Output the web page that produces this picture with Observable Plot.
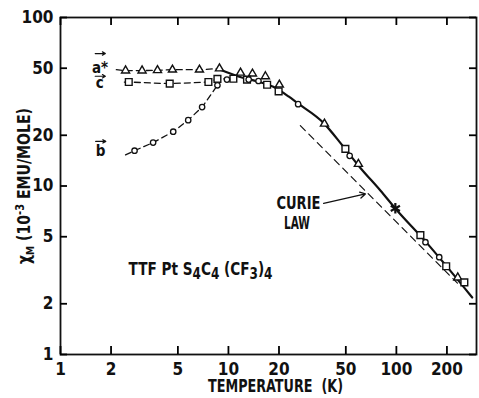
<!DOCTYPE html>
<html><head><meta charset="utf-8">
<script src="https://cdn.jsdelivr.net/npm/d3@7"></script>
<script src="https://cdn.jsdelivr.net/npm/@observablehq/plot@0.6"></script>
<style>
body{margin:0;background:#fff;}
#chart svg{font-family:"DejaVu Sans Condensed","DejaVu Sans",sans-serif;font-weight:bold;}
</style></head><body><div id="chart"></div>
<script>
// tick values
const xTicks = [1, 2, 5, 10, 20, 50, 100, 200];
const yTicks = [1, 2, 5, 10, 20, 50, 100];

// measured points: a* (triangles)
const aT   = [2.44, 3.06, 3.78, 4.64, 6.72, 8.84, 11.8, 13.9, 16.6, 20.1, 37.3, 59.4, 232];
const aChi = [48.4, 48.4, 48.6, 49.0, 49.0, 49.8, 47.0, 46.4, 44.7, 39.9, 23.4, 13.5, 2.86];
// c (squares)
const cT   = [2.55, 4.47, 7.6, 8.6, 10.7, 12.9, 17.0, 19.9, 49.7, 139, 198, 254];
const cChi = [41.4, 40.5, 41.4, 43.2, 43.3, 42.8, 39.9, 36.4, 16.6, 5.11, 3.34, 2.68];
// b (circles)
const bT   = [2.76, 3.56, 4.69, 5.76, 6.97, 8.6, 9.8, 13.2, 15.1, 26.0, 52.7, 149, 180];
const bChi = [16.2, 18.1, 21.0, 24.6, 29.4, 39.6, 42.8, 42.8, 42.0, 30.6, 15.1, 4.64, 3.78];
// overlapping point at 100 K
const starT = [98.6];
const starChi = [7.37];

// dashed low-temperature guide curves
const aDashT   = [2.15, 2.44, 3.06, 3.78, 4.64, 6.72, 8.84];
const aDashChi = [49.0, 48.4, 48.4, 48.6, 49.0, 49.0, 49.8];
const cDashT   = [2.4, 2.55, 4.47, 7.6, 8.6, 10.7];
const cDashChi = [41.4, 41.4, 40.5, 41.4, 43.2, 43.3];
const bDashT   = [2.44, 2.76, 3.56, 4.69, 5.76, 6.97, 8.6, 8.9];
const bDashChi = [15.3, 16.2, 18.1, 21.0, 24.6, 29.4, 39.6, 43.5];

// solid high-temperature curve
const fitT   = [8.96, 11.47, 15.09, 18.5, 22.8, 25.7, 36.8, 48.4, 61.1, 80.3, 98.6, 153, 201, 283];
const fitChi = [49.0, 44.7, 41.6, 38.8, 34.0, 31.1, 23.7, 17.1, 12.8, 9.4, 7.35, 4.55, 3.3, 2.18];

// Curie law line
const curieT   = [26.8, 231];
const curieChi = [22.8, 2.65];

// annotations
const seriesNames = ["a*", "c", "b"];
const seriesLabT = [1.72, 1.71, 1.73];
const seriesLabChi = [49.7, 40.5, 16.2];
const vecX1 = [1.61, 1.61, 1.62], vecX2 = [1.85, 1.85, 1.86];
const vecChi = [61.1, 44.8, 18.4];
const curieWords = ["CURIE", "LAW"];
const curieWordT = [26.1, 25.6], curieWordChi = [7.92, 6.02];
const curieArrow = {x1: [36.9], y1: [7.89], x2: [65.4], y2: [8.97]};
const compound = ["TTF Pt S4C4 (CF3)4"];
const compoundT = [2.54], compoundChi = [3.21];
const xLabel = "TEMPERATURE  (K)";
const yLabel = "χM (10-3 EMU/MOLE)";

const zip = (xs, ys) => xs.map((x, i) => ({x, y: ys[i]}));
const ink = "#111";
const dash = {stroke: ink, strokeWidth: 1.3, strokeDasharray: "6,4"};
const W = 479, H = 398, ML = 60, MR = 3, MT = 17, MB = 44;
const PW = W - ML - MR, PH = H - MT - MB;
const tickStyle = {stroke: "#000", strokeWidth: 1.8};

const plot = Plot.plot({
  width: W, height: H,
  marginLeft: ML, marginRight: MR, marginTop: MT, marginBottom: MB,
  style: {fontFamily: '"DejaVu Sans Condensed","DejaVu Sans",sans-serif', fontSize: "17px", fontWeight: "bold", color: ink, background: "#fff"},
  x: {type: "log", domain: [1, 300], axis: null},
  y: {type: "log", domain: [1, 100], axis: null},
  marks: [
    Plot.frame({stroke: ink, strokeWidth: 1.8}),
    // inward ticks on all four sides
    Plot.tickX(xTicks, {x: d => d, ...tickStyle, insetTop: PH - 8}),
    Plot.tickX(xTicks, {x: d => d, ...tickStyle, insetBottom: PH - 8}),
    Plot.tickY(yTicks, {y: d => d, ...tickStyle, insetLeft: PW - 7}),
    Plot.tickY(yTicks, {y: d => d, ...tickStyle, insetLeft: PW - 7, dx: -(PW - 7)}),
    // tick labels
    Plot.text(xTicks, {x: d => d, frameAnchor: "bottom", lineAnchor: "top", dy: 8, text: d => String(d), fontSize: 17, fill: ink}),
    Plot.text(yTicks, {y: d => d, frameAnchor: "left", textAnchor: "end", dx: -7, text: d => String(d), fontSize: 17, fill: ink}),
    Plot.line(zip(curieT, curieChi), {x: "x", y: "y", stroke: ink, strokeWidth: 1.2, strokeDasharray: "7,5"}),
    Plot.line(zip(aDashT, aDashChi), {x: "x", y: "y", ...dash}),
    Plot.line(zip(cDashT, cDashChi), {x: "x", y: "y", ...dash}),
    Plot.line(zip(bDashT, bDashChi), {x: "x", y: "y", ...dash}),
    Plot.line(zip(fitT, fitChi), {x: "x", y: "y", stroke: ink, strokeWidth: 2.2, curve: "monotone-x"}),
    Plot.dot(zip(aT, aChi), {x: "x", y: "y", symbol: "triangle", r: 3, stroke: ink, fill: "#fff", strokeWidth: 1.4}),
    Plot.dot(zip(cT, cChi), {x: "x", y: "y", symbol: "square", r: 3.8, stroke: ink, fill: "#fff", strokeWidth: 1.4}),
    Plot.dot(zip(bT, bChi), {x: "x", y: "y", symbol: "circle", r: 2.7, stroke: ink, fill: "#fff", strokeWidth: 1.3}),
    Plot.dot(zip(starT, starChi), {x: "x", y: "y", symbol: "asterisk", r: 5, stroke: ink, strokeWidth: 2.2}),
    Plot.text(seriesNames, {x: (d, i) => seriesLabT[i], y: (d, i) => seriesLabChi[i], text: d => d, fontSize: 15, fill: ink}),
    Plot.arrow(seriesNames, {x1: (d, i) => vecX1[i], x2: (d, i) => vecX2[i], y1: (d, i) => vecChi[i], y2: (d, i) => vecChi[i], stroke: ink, strokeWidth: 1.2, headLength: 5}),
    Plot.text(curieWords, {x: (d, i) => curieWordT[i], y: (d, i) => curieWordChi[i], text: d => d, fontSize: 17, fill: ink}),
    Plot.arrow([0], {x1: curieArrow.x1, y1: curieArrow.y1, x2: curieArrow.x2, y2: curieArrow.y2, stroke: ink, strokeWidth: 1.3, headLength: 7}),
    Plot.text(compound, {x: compoundT, y: compoundChi, text: d => d, textAnchor: "start", fontSize: 17, fill: ink}),
    Plot.text([xLabel], {frameAnchor: "bottom", dy: 37, dx: 7, text: d => d, fontSize: 17, fill: ink}),
    Plot.text([yLabel], {frameAnchor: "left", dx: -36, rotate: -90, text: d => d, fontSize: 17, fill: ink})
  ]
});
document.getElementById("chart").append(plot);

const texts = () => d3.select(plot).selectAll("text");
// rich text: subscripts / superscripts
function rich(match, parts) {
  texts().filter(function () { return this.textContent === match; }).each(function () {
    const t = d3.select(this);
    t.text("");
    let shift = 0;
    for (const p of parts) {
      const target = p.sub ? 4 : p.sup ? -6 : 0;
      const s = t.append("tspan").text(p.t).attr("dy", target - shift);
      if (p.sub || p.sup) s.attr("font-size", p.size || 13);
      shift = target;
    }
  });
}
// fit the lettering widths of the original
function fitWidth(match, len, centred) {
  texts().filter(function () { return this.textContent === match; })
    .each(function () {
      const t = d3.select(this);
      if (centred) t.attr("text-anchor", "start").attr("x", -len / 2);
      t.attr("textLength", len).attr("lengthAdjust", "spacingAndGlyphs");
    });
}
rich("TTF Pt S4C4 (CF3)4", [
  {t: "TTF Pt S"}, {t: "4", sub: 1, size: 15}, {t: "C"}, {t: "4", sub: 1, size: 15},
  {t: " (CF"}, {t: "3", sub: 1, size: 15}, {t: ")"}, {t: "4", sub: 1, size: 15}
]);
rich("χM (10-3 EMU/MOLE)", [
  {t: "χ"}, {t: "M", sub: 1, size: 11}, {t: " (10"}, {t: "-3", sup: 1, size: 12}, {t: " EMU/MOLE)"}
]);
fitWidth("TTF Pt S4C4 (CF3)4", 144, false);
fitWidth("χM (10-3 EMU/MOLE)", 156, true);
fitWidth("TEMPERATURE  (K)", 135, false);
fitWidth("CURIE", 44, false);
fitWidth("LAW", 26, false);
</script></body></html>
